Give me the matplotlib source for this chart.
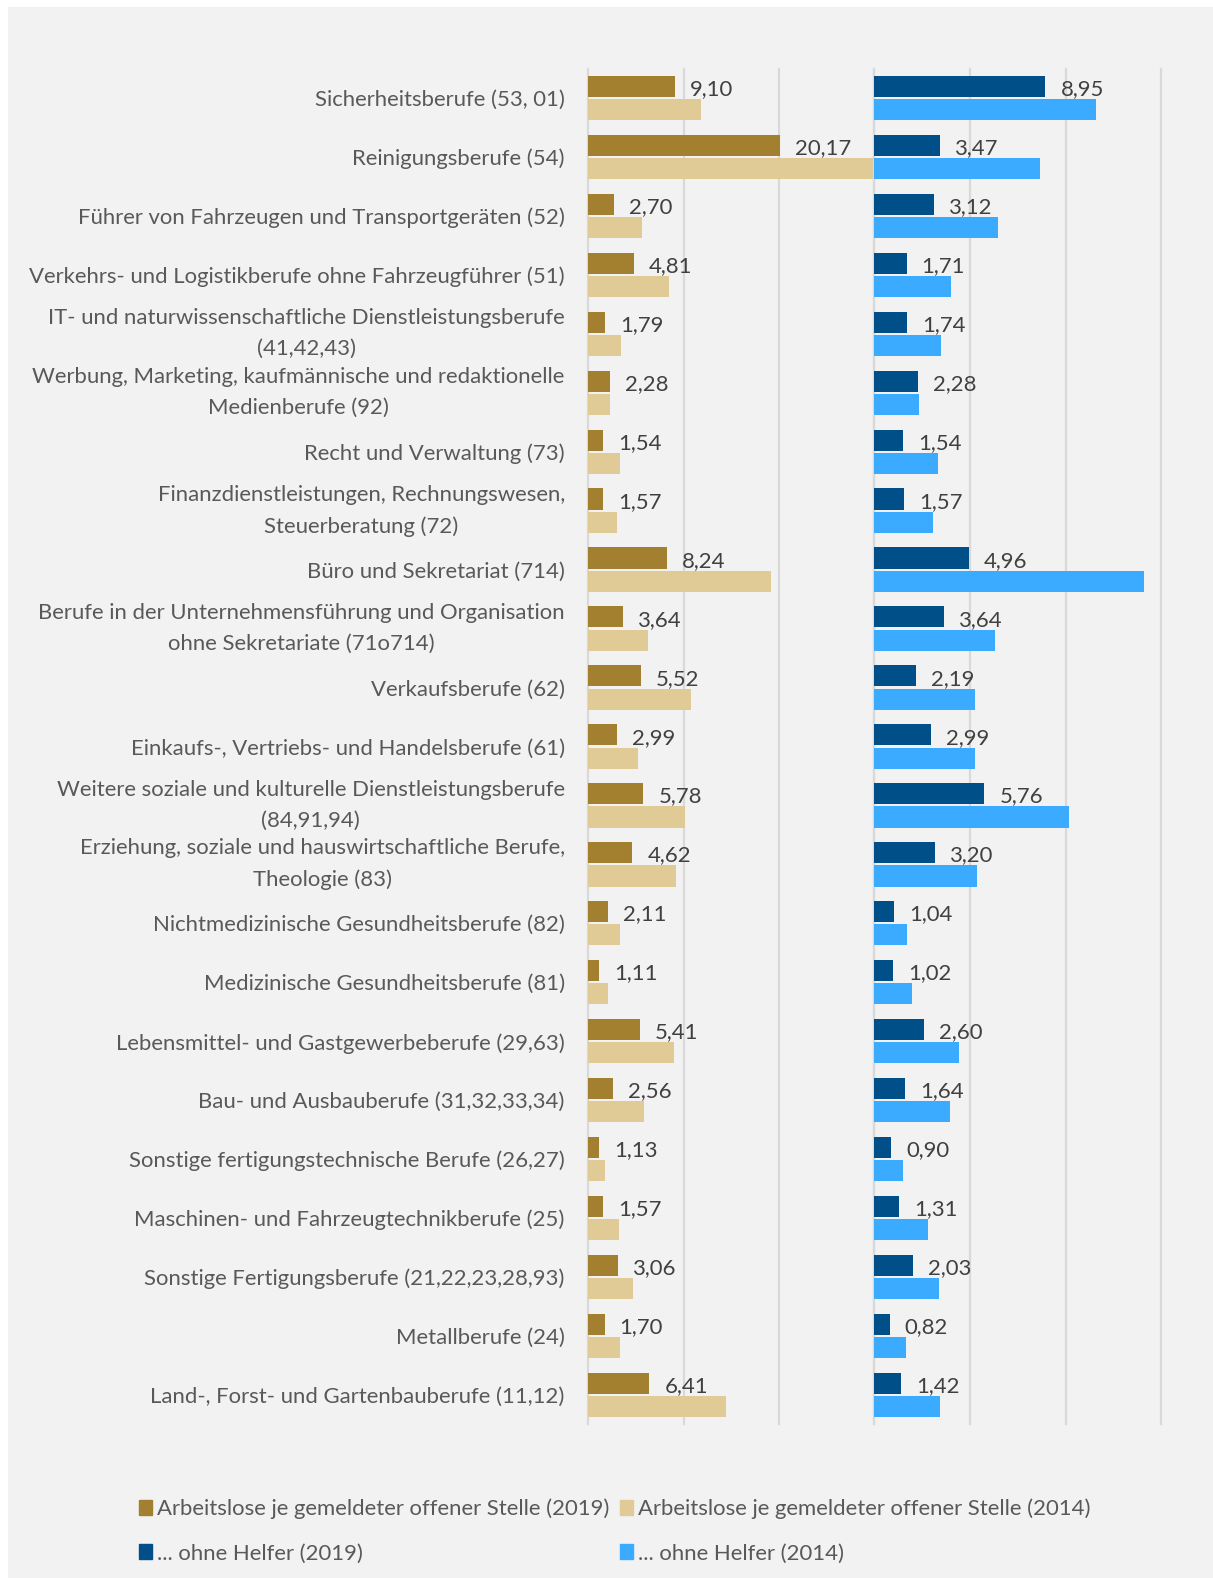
import numpy as np
import matplotlib
matplotlib.use("Agg")
import matplotlib.pyplot as plt
from matplotlib.patches import Rectangle, Patch

# Berufsgruppen (von oben nach unten)
categories = [
    "Sicherheitsberufe (53, 01)",
    "Reinigungsberufe (54)",
    "Führer von Fahrzeugen und Transportgeräten (52)",
    "Verkehrs- und Logistikberufe ohne Fahrzeugführer (51)",
    "IT- und naturwissenschaftliche Dienstleistungsberufe\n(41,42,43)",
    "Werbung, Marketing, kaufmännische und redaktionelle\nMedienberufe (92)",
    "Recht und Verwaltung (73)",
    "Finanzdienstleistungen, Rechnungswesen,\nSteuerberatung (72)",
    "Büro und Sekretariat (714)",
    "Berufe in der Unternehmensführung und Organisation\nohne Sekretariate (71o714)",
    "Verkaufsberufe (62)",
    "Einkaufs-, Vertriebs- und Handelsberufe (61)",
    "Weitere soziale und kulturelle Dienstleistungsberufe\n(84,91,94)",
    "Erziehung, soziale und hauswirtschaftliche Berufe,\nTheologie (83)",
    "Nichtmedizinische Gesundheitsberufe (82)",
    "Medizinische Gesundheitsberufe (81)",
    "Lebensmittel- und Gastgewerbeberufe (29,63)",
    "Bau- und Ausbauberufe (31,32,33,34)",
    "Sonstige fertigungstechnische Berufe (26,27)",
    "Maschinen- und Fahrzeugtechnikberufe (25)",
    "Sonstige Fertigungsberufe (21,22,23,28,93)",
    "Metallberufe (24)",
    "Land-, Forst- und Gartenbauberufe (11,12)",
]

# Arbeitslose je gemeldeter offener Stelle
al_2019 = [9.10, 20.17, 2.70, 4.81, 1.79, 2.28, 1.54, 1.57, 8.24, 3.64, 5.52, 2.99,
           5.78, 4.62, 2.11, 1.11, 5.41, 2.56, 1.13, 1.57, 3.06, 1.70, 6.41]
al_2014 = [11.8, 30.0, 5.6, 8.5, 3.4, 2.3, 3.3, 3.0, 19.2, 6.3, 10.8, 5.2,
           10.2, 9.2, 3.3, 2.1, 9.0, 5.8, 1.7, 3.2, 4.7, 3.3, 14.5]

# ... ohne Helfer
oh_2019 = [8.95, 3.47, 3.12, 1.71, 1.74, 2.28, 1.54, 1.57, 4.96, 3.64, 2.19, 2.99,
           5.76, 3.20, 1.04, 1.02, 2.60, 1.64, 0.90, 1.31, 2.03, 0.82, 1.42]
oh_2014 = [11.6, 8.65, 6.5, 4.05, 3.5, 2.37, 3.35, 3.07, 14.1, 6.3, 5.3, 5.28,
           10.2, 5.36, 1.73, 1.97, 4.46, 3.98, 1.52, 2.83, 3.39, 1.65, 3.44]

legend_labels = [
    "Arbeitslose je gemeldeter offener Stelle (2019)",
    "Arbeitslose je gemeldeter offener Stelle (2014)",
    "... ohne Helfer (2019)",
    "... ohne Helfer (2014)",
]

left_ticks = [0, 10, 20, 30]
right_ticks = [0, 5, 10, 15]

C_GOLD_DARK = "#A37F30"
C_GOLD_LIGHT = "#E0CB97"
C_BLUE_DARK = "#004F88"
C_BLUE_LIGHT = "#3BABFF"
C_GRID = "#D9D9D9"
C_LABEL = "#595959"
C_VALUE = "#404040"

plt.rcParams["font.family"] = ["Lato", "DejaVu Sans"]
FS = 15.9

W, H = 1213, 1578
fig = plt.figure(figsize=(W / 100, H / 100), dpi=100, facecolor="white")
fig.patches.append(Rectangle((8 / W, 0), 1, 1 - 7 / H, transform=fig.transFigure,
                             facecolor="#F2F2F2", edgecolor="none", zorder=-10))

x0, xm, x1 = 588.4, 873.9, 1161.3
top, bot = 68.5, 1424.4
axL = fig.add_axes([x0 / W, 1 - bot / H, (xm - x0) / W, (bot - top) / H])
axR = fig.add_axes([xm / W, 1 - bot / H, (x1 - xm) / W, (bot - top) / H])

y = np.arange(len(categories))
bh = 0.358
off = 0.197


def fmt(v):
    return f"{v:.2f}".replace(".", ",")


for ax, v19, v14, c19, c14, ticks in [
    (axL, al_2019, al_2014, C_GOLD_DARK, C_GOLD_LIGHT, left_ticks),
    (axR, oh_2019, oh_2014, C_BLUE_DARK, C_BLUE_LIGHT, right_ticks),
]:
    ax.set_facecolor("none")
    ax.set_xlim(ticks[0], ticks[-1])
    ax.set_ylim(len(categories) - 0.5, -0.5)
    for t in ticks:
        ax.axvline(t, color=C_GRID, lw=1.6, zorder=0, clip_on=False)
    ax.barh(y - off, v19, height=bh, color=c19, zorder=2)
    ax.barh(y + off, v14, height=bh, color=c14, zorder=2)
    for yi, v in zip(y, v19):
        ax.annotate(fmt(v), xy=(v, yi - off), xytext=(10.8, -2), textcoords="offset points",
                    ha="left", va="center", fontsize=FS, color=C_VALUE, zorder=3)
    ax.set_xticks([])
    for s in ax.spines.values():
        s.set_visible(False)

axL.set_yticks(y)
axL.set_yticklabels(categories)
axL.tick_params(axis="y", length=0, pad=17, labelsize=FS, labelcolor=C_LABEL)
for lab in axL.get_yticklabels():
    lab.set_multialignment("center")
    lab.set_linespacing(1.68)
    if "\n" in lab.get_text():
        lab.set_verticalalignment("center")
axR.set_yticks([])

handles = [Patch(color=C_GOLD_DARK), Patch(color=C_BLUE_DARK),
           Patch(color=C_GOLD_LIGHT), Patch(color=C_BLUE_LIGHT)]
labels = [legend_labels[0], legend_labels[2], legend_labels[1], legend_labels[3]]
fig.legend(handles, labels, ncol=2, loc="center left",
           bbox_to_anchor=(139 / W, 1 - 1531 / H), frameon=False,
           fontsize=FS, labelcolor=C_LABEL, handlelength=0.58, handleheight=0.7,
           handletextpad=0.22, columnspacing=0.5, labelspacing=1.1,
           borderpad=0, borderaxespad=0)

fig.savefig("out.png", dpi=100, facecolor=fig.get_facecolor())
